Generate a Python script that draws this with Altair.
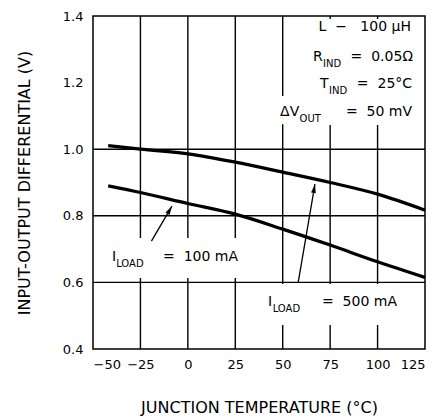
import altair as alt
import pandas as pd

# ---- data ----
temps = [-42, -25, 0, 25, 50, 75, 100, 125]
v_500mA = [1.011, 1.000, 0.986, 0.961, 0.931, 0.900, 0.865, 0.817]
v_100mA = [0.890, 0.870, 0.837, 0.805, 0.760, 0.712, 0.662, 0.615]

x_ticks = [-50, -25, 0, 25, 50, 75, 100, 125]
y_ticks = [0.4, 0.6, 0.8, 1.0, 1.2, 1.4]
x_grid = [-25, 0, 25, 50, 75, 100]
y_grid = [0.6, 0.8, 1.0]

# annotation text pieces: (x, y, text, size, align)
ann_x = [117.6, 66.0, 71.3, 118.7, 69.7, 74.4, 118.2, 48.6, 58.9, 118.2,
         -40.0, -37.8, -13.1, 42.3, 44.7, 70.7]
ann_y = [1.367, 1.277, 1.257, 1.277, 1.196, 1.176, 1.196, 1.112, 1.092, 1.112,
         0.676, 0.656, 0.676, 0.541, 0.521, 0.541]
ann_text = ["L\u00a0\u00a0\u2212\u00a0\u00a0\u00a0100\u00a0\u00b5H", "R", "IND",
            "=\u00a0\u00a00.05\u2126",
            "T", "IND", "=\u00a0\u00a025\u00b0C",
            "\u0394V", "OUT", "=\u00a0\u00a050 mV",
            "I", "LOAD", "=\u00a0\u00a0100 mA",
            "I", "LOAD", "=\u00a0\u00a0500 mA"]
ann_size = [14, 14, 10, 14, 14, 10, 14, 14, 10, 14, 14, 10, 14, 14, 10, 14]
ann_align = ["right", "left", "left", "right", "left", "left", "right",
             "left", "left", "right", "left", "left", "left", "left", "left", "left"]

# white areas behind labels (data coordinates)
mask_x = [54, 46, -41, 40]
mask_x2 = [122, 54, 36, 120]
mask_y = [1.391, 1.160, 0.733, 0.595]
mask_y2 = [1.073, 1.075, 0.613, 0.472]

# arrows: tail -> head
arrow_id = ["a100", "a100", "a500", "a500"]
arrow_x = [-19.2, -8.4, 58.1, 67.0]
arrow_y = [0.724, 0.829, 0.598, 0.895]
head_x = [-8.4, 67.0]
head_y = [0.829, 0.895]
head_angle = [30, 10]

curves = pd.DataFrame({
    "t": temps * 2,
    "v": v_500mA + v_100mA,
    "series": ["500 mA"] * len(temps) + ["100 mA"] * len(temps),
})
ann = pd.DataFrame({"x": ann_x, "y": ann_y, "text": ann_text,
                    "size": ann_size, "align": ann_align})
masks = pd.DataFrame({"x": mask_x, "x2": mask_x2, "y": mask_y, "y2": mask_y2})
arrows = pd.DataFrame({"id": arrow_id, "x": arrow_x, "y": arrow_y})
heads = pd.DataFrame({"x": head_x, "y": head_y, "angle": head_angle})

xscale = alt.Scale(domain=[-50, 125], nice=False, zero=False)
yscale = alt.Scale(domain=[0.4, 1.4], nice=False, zero=False)

xaxis = alt.Axis(values=x_ticks, title="JUNCTION TEMPERATURE (\u00b0C)", grid=False,
                 labelPadding=9, titleY=58, titleBaseline="middle")
yaxis = alt.Axis(values=y_ticks, format=".1f", title="INPUT-OUTPUT DIFFERENTIAL (V)",
                 grid=False, labelPadding=10, titleX=-69, titleY=166.5,
                 titleBaseline="middle", titleAnchor="middle")

gx = pd.DataFrame({"g": x_grid})
gy = pd.DataFrame({"g": y_grid})

grid_v = alt.Chart(gx).mark_rule(color="black", strokeWidth=1.4).encode(
    x=alt.X("g:Q", scale=xscale, axis=xaxis))
grid_h = alt.Chart(gy).mark_rule(color="black", strokeWidth=1.4).encode(
    y=alt.Y("g:Q", scale=yscale, axis=yaxis))

mask = alt.Chart(masks).mark_rect(color="white").encode(
    x=alt.X("x:Q", scale=xscale), x2="x2:Q",
    y=alt.Y("y:Q", scale=yscale), y2="y2:Q")

lines = alt.Chart(curves).mark_line(color="black", strokeWidth=3.2,
                                    interpolate="monotone").encode(
    x=alt.X("t:Q", scale=xscale),
    y=alt.Y("v:Q", scale=yscale),
    detail="series:N")

arrow_lines = alt.Chart(arrows).mark_line(color="black", strokeWidth=1.3).encode(
    x=alt.X("x:Q", scale=xscale), y=alt.Y("y:Q", scale=yscale), detail="id:N")

arrow_heads = alt.Chart(heads).mark_point(
    shape="M0,0L0.6,2.2L-0.6,2.2Z", filled=True, color="black", size=64, opacity=1
).encode(
    x=alt.X("x:Q", scale=xscale), y=alt.Y("y:Q", scale=yscale),
    angle=alt.Angle("angle:Q", scale=None))

def text_layer(align):
    return alt.Chart(ann[ann["align"] == align]).mark_text(
        font="DejaVu Sans", color="black", align=align, baseline="middle"
    ).encode(
        x=alt.X("x:Q", scale=xscale), y=alt.Y("y:Q", scale=yscale),
        text="text:N", size=alt.Size("size:Q", scale=None))

chart = alt.layer(
    grid_v, grid_h, mask, lines, arrow_lines, arrow_heads,
    text_layer("left"), text_layer("right")
).properties(
    width=332, height=333,
    autosize=alt.AutoSizeParams(type="none"),
    padding={"left": 85, "top": 8, "right": 9, "bottom": 76},
).configure_view(
    stroke="black", strokeWidth=1.5
).configure_axis(
    domain=False, ticks=False,
    labelFont="DejaVu Sans", labelFontSize=13, labelColor="black",
    titleFont="DejaVu Sans", titleFontSize=16, titleFontWeight="normal",
    titleColor="black"
)

chart.save("out.html", embed_options={"renderer": "svg", "actions": False})
